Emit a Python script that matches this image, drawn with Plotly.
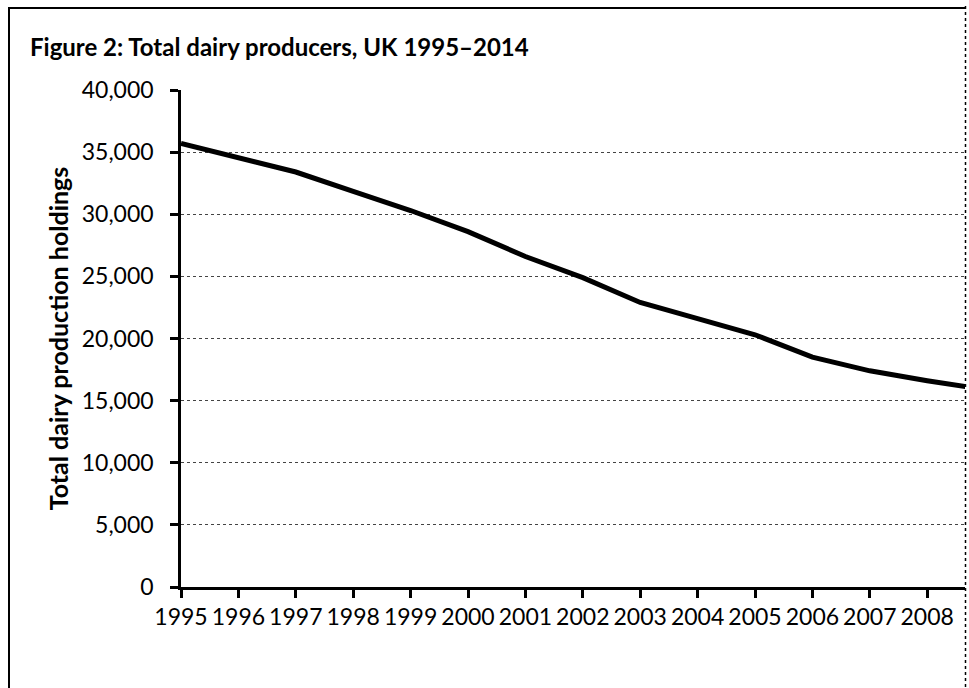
import plotly.graph_objects as go

# Total dairy production holdings, UK
years = [1995, 1996, 1997, 1998, 1999, 2000, 2001, 2002, 2003, 2004,
         2005, 2006, 2007, 2008, 2009]
holdings = [35700, 34500, 33400, 31850, 30300, 28600, 26600, 24900, 22900,
            21600, 20300, 18500, 17400, 16600, 15900]

y_ticks = [0, 5000, 10000, 15000, 20000, 25000, 30000, 35000, 40000]
y_tick_labels = ["0", "5,000", "10,000", "15,000", "20,000", "25,000",
                 "30,000", "35,000", "40,000"]
x_ticks = list(range(1995, 2009))

W, H = 969, 688
ML, MR, MT, MB = 181, 4, 90, 101
PW, PH = W - ML - MR, H - MT - MB


def px(x):
    return (x - ML) / PW


def py(y):
    return (H - MB - y) / PH


FONT = "Lato"

fig = go.Figure()
fig.add_trace(go.Scatter(
    x=years, y=holdings, mode="lines",
    line=dict(color="black", width=5),
    hoverinfo="skip", showlegend=False,
))

fig.update_layout(
    width=W, height=H,
    margin=dict(l=ML, r=MR, t=MT, b=MB),
    paper_bgcolor="white", plot_bgcolor="white",
    font=dict(family=FONT, size=22, color="black"),
    title=dict(
        text="<b>Figure 2: Total dairy producers, UK 1995\u20132014</b>",
        x=30 / W, xanchor="left", y=1 - 48 / H, yanchor="middle",
        font=dict(family=FONT, size=24, color="black"),
    ),
    xaxis=dict(
        range=[1995, 1995 + PW / 57.4],
        tickmode="array", tickvals=x_ticks,
        ticktext=[str(v) for v in x_ticks],
        tickangle=0,
        showgrid=False, zeroline=False,
        showline=True, linecolor="black", linewidth=2.5,
        ticks="outside", ticklen=8, tickwidth=2.5, tickcolor="black",
        tickfont=dict(family=FONT, size=23),
    ),
    yaxis=dict(
        range=[0, 40000],
        tickmode="array", tickvals=y_ticks, ticktext=y_tick_labels,
        showgrid=True, gridcolor="#444444", gridwidth=1.2, griddash="dot",
        zeroline=False,
        showline=True, linecolor="black", linewidth=2.5,
        ticks="outside", ticklen=8, tickwidth=2.5, tickcolor="black",
        tickfont=dict(family=FONT, size=23),
        ticklabelstandoff=12,
        title=dict(text="<b>Total dairy production holdings</b>",
                   font=dict(family=FONT, size=25), standoff=6),
    ),
)

# Chart frame: solid left and top edges, dotted right edge
fig.add_shape(type="line", xref="paper", yref="paper",
              x0=px(9), x1=px(9), y0=py(8), y1=py(700),
              line=dict(color="black", width=2))
fig.add_shape(type="line", xref="paper", yref="paper",
              x0=px(8), x1=px(965), y0=py(8), y1=py(8),
              line=dict(color="black", width=2))
fig.add_shape(type="line", xref="paper", yref="paper",
              x0=px(965.5), x1=px(965.5), y0=py(6), y1=py(700),
              line=dict(color="black", width=1.5, dash="dot"))

fig.write_html("out.html")
